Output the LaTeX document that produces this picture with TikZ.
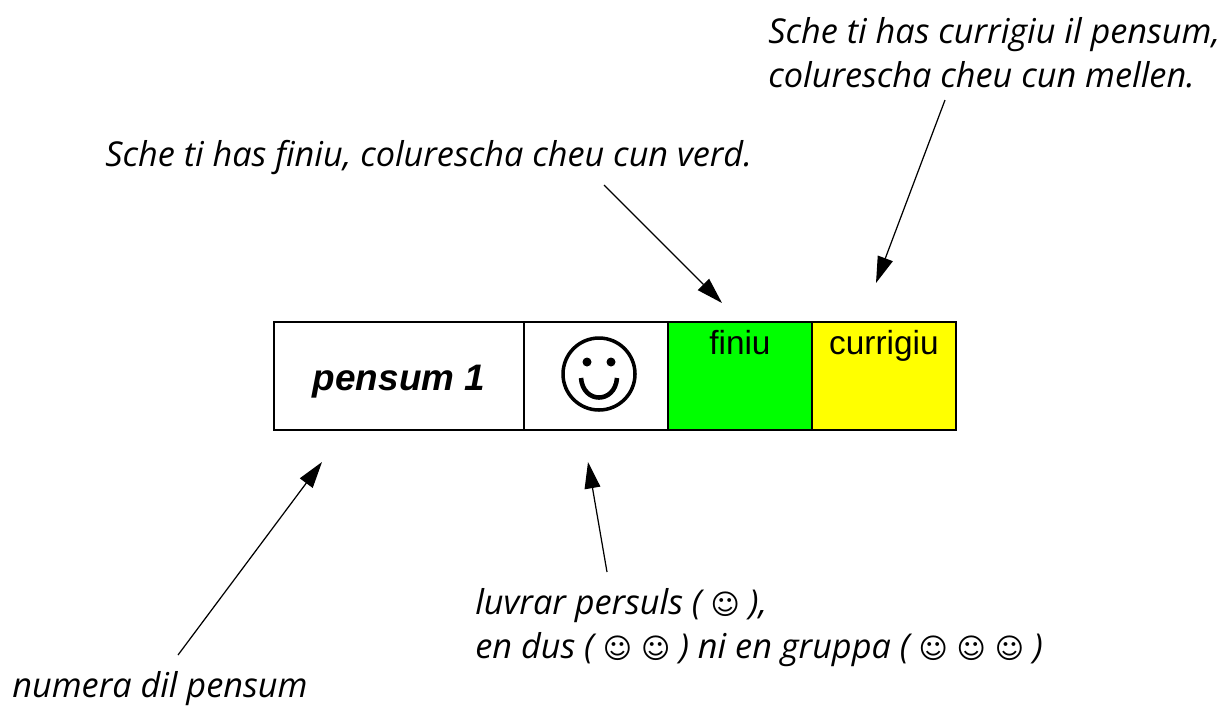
\documentclass[tikz,border=0pt]{standalone}
\usepackage{fontspec}
\setmainfont{Liberation Sans}
\newfontfamily\notefont{Open Sans}
\newfontfamily\smilefont{DejaVu Sans}
\usetikzlibrary{positioning,arrows.meta}
\newcommand{\smly}{{\smilefont\fontsize{16}{16}\selectfont\symbol{"263A}}}
\tikzset{
  cell/.style={draw, line width=1.1pt, outer sep=0pt, inner sep=0pt, minimum height=2.16cm, minimum width=2.88cm},
  note/.style={font=\notefont\itshape\fontsize{19.5}{25}\selectfont, inner sep=0pt, align=left},
  pointer/.style={-{Triangle[length=15pt,width=9pt]}, line width=0.7pt}
}
\begin{document}
\begin{tikzpicture}[x=0.02cm,y=-0.02cm]
\useasboundingbox (0,0) rectangle (1226,708);

% the row of cells
\node[cell, minimum width=5cm] (nr) at (399,376) {};
\node[cell, right=0pt of nr] (smile) {};
\node[cell, right=0pt of smile, fill={rgb,255:red,0;green,255;blue,0}] (fin) {};
\node[cell, right=0pt of fin, fill={rgb,255:red,255;green,255;blue,0}] (cur) {};
\draw[line width=1.1pt] (nr.north west) rectangle (cur.south east);

\node[font=\bfseries\itshape\fontsize{21}{24}\selectfont, yshift=-0.11cm] (nrtxt) at (nr.center) {pensum 1};
\node[below=1pt of fin.north, font=\fontsize{19}{22}\selectfont] (fintxt) {finiu};
\node[below=1pt of cur.north, font=\fontsize{19}{22}\selectfont] (curtxt) {currigiu};

% the face
\draw[line width=2pt] (599,374) ellipse [x radius=36, y radius=36];
\fill (587,362) circle (4.5);
\fill (611,362) circle (4.5);
\draw[line width=2.6pt] (581,378) .. controls (583,404) and (615,404) .. (617,378);

% notes
\node[note, anchor=west] (fintip) at (105,157) {Sche ti has finiu, colurescha cheu cun verd.};
\node[note, anchor=north west] (curtip) at (768,17) {Sche ti has currigiu il pensum,\\colurescha cheu cun mellen.};
\node[note, anchor=north west] (grptip) at (475,588) {luvrar persuls ( \smly\ ),\\en dus ( \smly\ \smly\ ) ni en gruppa ( \smly\ \smly\ \smly\ )};
\node[note, anchor=west] (nrtip) at (12,689) {numera dil pensum};

% pointers
\coordinate (a1) at (604,185);
\coordinate (a2) at (945,100);
\coordinate (a3) at (178,655);
\coordinate (a4) at (607,572);
\draw[pointer] (a1) -- (722,303);
\draw[pointer] (a2) -- (876,283);
\draw[pointer] (a3) -- (322,462);
\draw[pointer] (a4) -- (588,462);
\end{tikzpicture}
\end{document}
